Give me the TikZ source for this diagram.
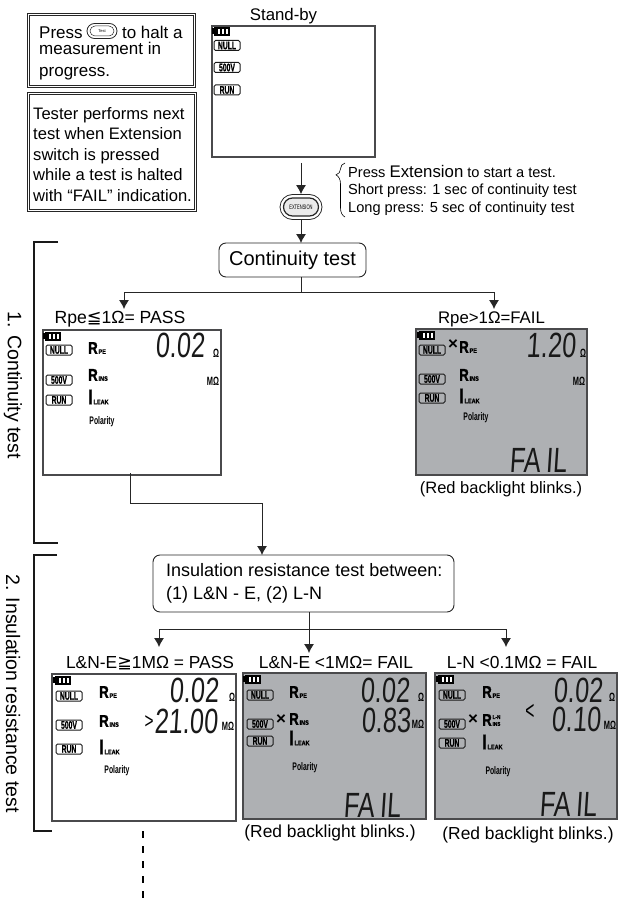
\documentclass[tikz,border=0pt]{standalone}
\usepackage{fontspec}
\setmainfont{Liberation Sans}
\newfontfamily\symfont{DejaVu Sans}
\newfontfamily\lcdfont[FakeSlant=0.09]{Liberation Sans}
\newfontfamily\lcdheavy[FakeBold=1.4]{Liberation Sans Bold}
\usetikzlibrary{arrows.meta,shapes.misc,decorations.pathreplacing}

\definecolor{lcdgray}{HTML}{AEB0B3}
\definecolor{lcdedge}{HTML}{4A4A4C}

\tikzset{
  flowline/.style={line width=0.9pt, black!85},
  flowarrow/.style={flowline, -{Latex[length=9pt,width=10pt]}},
  bracket/.style={line width=2.6pt, black!90},
  doublebox/.style={draw=black!85, line width=0.7pt, double, double distance=1.3pt, inner sep=0pt},
  roundbox/.style={draw=black!85, line width=0.9pt, rounded corners=7pt, inner sep=0pt},
  txt/.style={inner sep=0pt, align=left},
  lcdbox/.style={draw=lcdedge, line width=1.1pt, inner sep=0pt},
  lcdfail/.style={lcdbox, fill=lcdgray},
  lcdtag/.style={draw=black!90, line width=1pt, rounded corners=1.5pt, inner sep=0pt,
                 minimum width=26pt, minimum height=10pt, font=\fontsize{11}{11}\selectfont\lcdheavy},
  lcdname/.style={inner sep=0pt, anchor=west, font=\lcdheavy},
  lcdnum/.style={inner sep=0pt, black!90, font=\fontsize{24}{24}\selectfont\lcdfont},
  lcdunit/.style={inner sep=0pt, font=\fontsize{12}{12}\selectfont\bfseries},
  lcdpol/.style={inner sep=0pt, font=\fontsize{11}{11}\selectfont\bfseries},
  mark x/.style={inner sep=0pt, font=\fontsize{17}{17}\selectfont\bfseries},
  keyouter/.style={draw=black!85, line width=0.8pt, rounded rectangle, inner sep=0pt},
  note/.style={inner sep=0pt, font=\fontsize{17.4}{18}\selectfont},
}

\newcommand\lcdthin[1]{\scalebox{.62}[1]{#1}}
\newcommand\lcdfig[1]{\scalebox{1.05}[1.46]{#1}}
\newcommand\lcdsym[3]{{\fontsize{#1}{#1}\selectfont\scalebox{.78}[1]{#2}}\kern.8pt{\fontsize{6.5}{6.5}\selectfont\scalebox{.85}[1]{#3}}}
\newcommand\lcdbatt[3]{%
  \fill[black] (#2,#3+1) rectangle (#2+1.5,#3+7);
  \fill[black] (#2+1.5,#3) rectangle (#2+18,#3+8.5);
  \foreach \i in {0,1,2} {\fill[white] (#2+6+\i*4,#3+2) rectangle (#2+7.5+\i*4,#3+7);}
}
\newcommand\lcdtags[5]{%
  \node[lcdtag] (#1null) at (#2,#3) {\lcdthin{NULL}};
  \node[lcdtag] (#1volt) at (#2,#4) {\lcdthin{500V}};
  \node[lcdtag] (#1run) at (#2,#5) {\lcdthin{RUN}};
}
\newcommand\lcdlines[6]{%
  \node[lcdname] (#1pe) at (#2,#3) {\lcdsym{17}{R}{PE}};
  \node[lcdname] (#1ins) at (#2,#4) {\lcdsym{17}{R}{#6}};
  \node[lcdname] (#1leak) at (#2,#5) {\lcdsym{21}{I}{LEAK}};
}

\begin{document}
\begin{tikzpicture}[x=1pt,y=-1pt]
  \useasboundingbox (0,0) rectangle (618,904);

  \node[doublebox, minimum width=166pt, minimum height=72pt] (haltbox) at (111.5,50.5) {};
  \node[txt, anchor=north west, font=\fontsize{17}{16}\selectfont] (halttext) at (39,25.5)
    {Press \hspace{30pt} to halt a\\measurement in\\[6pt]progress.};
  \node[keyouter, minimum width=30pt, minimum height=15pt] (stopkey) at (102,31) {};
  \node[keyouter, line width=0.5pt, minimum width=24pt, minimum height=10pt, font=\fontsize{4}{4}\selectfont] (stopkeyin) at (102,31) {Test};

  \node[doublebox, minimum width=167pt, minimum height=117pt] (nextbox) at (112,152) {};
  \node[txt, anchor=north west, font=\fontsize{16.6}{20.5}\selectfont] (nexttext) at (33,107)
    {Tester performs next\\test when Extension\\switch is pressed\\while a test is halted\\with “FAIL” indication.};

  \node[inner sep=0pt, font=\fontsize{16.8}{17}\selectfont] (standbylabel) at (283.5,16) {Stand-by};
  \node[lcdbox, minimum width=163pt, minimum height=131pt] (standby) at (293.5,91.5) {};
  \lcdbatt{standbybatt}{212}{27.5}
  \lcdtags{standby}{227}{45.5}{67.5}{90}

  \node[keyouter, minimum width=42pt, minimum height=25pt] (extkey) at (301,207) {};
  \node[keyouter, line width=1.2pt, minimum width=35pt, minimum height=18pt, fill=black!8] (extkeyin) at (301,207) {};
  \node[inner sep=0pt, font=\fontsize{6.5}{6.5}\selectfont] (extkeytext) at (301,207) {\scalebox{.62}[1]{EXTENSION}};
  \draw[flowarrow] (301,163) -- (extkey.north);

  \draw[line width=0.6pt, decorate, decoration={brace, amplitude=9pt, aspect=0.78}] (345,217) -- (345,163);
  \node[txt, anchor=north west, font=\fontsize{14.6}{17.4}\selectfont] (presstext) at (348,165)
    {Press {\fontsize{16.8}{17}\selectfont Extension} to start a test.\\Short press: 1 sec of continuity test\\Long press: 5 sec of continuity test};

  \node[roundbox, minimum width=147pt, minimum height=34pt, font=\fontsize{20}{20}\selectfont] (contbox) at (292.5,260) {Continuity test};
  \draw[flowarrow] (extkey.south) -- (301,243);
  \coordinate (contbus) at (301,292);
  \coordinate (passtip) at (124,309);
  \coordinate (failtip) at (494,309);
  \draw[flowline] (301,277) -- (contbus);
  \draw[flowarrow] (contbus) -- (124,292) -- (passtip);
  \draw[flowarrow] (contbus) -- (494,292) -- (failtip);

  \draw[bracket] (58,242) -- (34,242) -- (34,543) -- (58,543);
  \draw[bracket] (57,555) -- (34,555) -- (34,831) -- (52,831);
  \node[rotate=-90, inner sep=0pt, font=\fontsize{19.5}{20}\selectfont] (conttitle) at (13,385.5) {1. Continuity test};
  \node[rotate=-90, inner sep=0pt, font=\fontsize{19.5}{20}\selectfont] (institle) at (13,693.5) {2. Insulation resistance test};

  \node[inner sep=0pt, font=\fontsize{17.6}{18}\selectfont] (passlabel) at (120,319) {Rpe{\symfont ≦}1Ω= PASS};
  \node[lcdbox, minimum width=178pt, minimum height=145pt] (pass) at (132,402.5) {};
  \lcdbatt{passbatt}{43}{332}
  \lcdtags{pass}{59}{350}{380}{400}
  \lcdlines{pass}{88}{348}{375}{397}{INS}
  \node[lcdpol] (passpol) at (102,422) {\lcdthin{Polarity}};
  \node[lcdnum] (passnum) at (180,345) {\lcdfig{0.02}};
  \node[lcdunit] (passohm) at (216,353) {\lcdthin{Ω}};
  \node[lcdunit] (passmeg) at (213,381) {\lcdthin{MΩ}};

  \node[inner sep=0pt, font=\fontsize{16.8}{17}\selectfont] (faillabel) at (491.5,319) {Rpe>1Ω=FAIL};
  \node[lcdfail, minimum width=171pt, minimum height=146pt] (fail) at (501.5,402) {};
  \lcdbatt{failbatt}{417}{331}
  \lcdtags{fail}{432}{350}{379}{398}
  \lcdlines{fail}{459}{347}{375}{396}{INS}
  \node[mark x] (failx) at (453,345) {×};
  \node[lcdpol] (failpol) at (476,418) {\lcdthin{Polarity}};
  \node[lcdnum] (failnum) at (551,345) {\lcdfig{1.20}};
  \node[lcdunit] (failohm) at (583,353) {\lcdthin{Ω}};
  \node[lcdunit] (failmeg) at (579,381) {\lcdthin{MΩ}};
  \node[lcdnum] (failword) at (538,460) {\lcdfig{FA\kern5pt IL}};
  \node[note, font=\fontsize{16.5}{17}\selectfont] (failnote) at (501,489) {(Red backlight blinks.)};

  \coordinate (insbend) at (130,503);
  \draw[flowline] (130,473) -- (insbend);
  \draw[flowarrow] (insbend) -- (262,503) -- (262,555);

  \node[roundbox, minimum width=301pt, minimum height=57pt] (insbox) at (303.5,583.5) {};
  \node[txt, anchor=north west, font=\fontsize{18}{23}\selectfont] (instext) at (166,563)
    {Insulation resistance test between:\\(1) L\&N - E, (2) L-N};

  \coordinate (insbus) at (309,629);
  \draw[flowline] (309,612) -- (insbus);
  \draw[flowarrow] (insbus) -- (159,629) -- (159,647);
  \draw[flowarrow] (insbus) -- (309,653);
  \draw[flowarrow] (insbus) -- (506,629) -- (506,647);

  \node[note] (lelabel) at (150,663) {L\&N-E{\symfont ≧}1MΩ = PASS};
  \node[lcdbox, minimum width=184pt, minimum height=147pt] (lepass) at (144,747.5) {};
  \lcdbatt{lepassbatt}{53}{676}
  \lcdtags{lepass}{69}{696}{725}{749}
  \lcdlines{lepass}{99}{692}{721}{747}{INS}
  \node[lcdpol] (lepasspol) at (117,771) {\lcdthin{Polarity}};
  \node[lcdnum] (lepassnum) at (194,690) {\lcdfig{0.02}};
  \node[lcdnum] (lepassins) at (186,721) {\lcdfig{21.00}};
  \node[inner sep=0pt, font=\fontsize{22}{22}\selectfont] (lepassgt) at (149,722) {\scalebox{.7}[1]{>}};
  \node[lcdunit] (lepassohm) at (232,697) {\lcdthin{Ω}};
  \node[lcdunit] (lepassmeg) at (228,726) {\lcdthin{MΩ}};

  \node[note] (lflabel) at (336,663) {L\&N-E <1MΩ= FAIL};
  \node[lcdfail, minimum width=183pt, minimum height=146pt] (lefail) at (334.5,746) {};
  \lcdbatt{lefailbatt}{243}{675}
  \lcdtags{lefail}{260}{695}{724}{741}
  \lcdlines{lefail}{289}{692}{719}{738}{INS}
  \node[mark x] (lefailx) at (281,720) {×};
  \node[lcdpol] (lefailpol) at (305,768) {\lcdthin{Polarity}};
  \node[lcdnum] (lefailnum) at (385,690) {\lcdfig{0.02}};
  \node[lcdnum] (lefailins) at (386,720) {\lcdfig{0.83}};
  \node[lcdunit] (lefailohm) at (421,697) {\lcdthin{Ω}};
  \node[lcdunit] (lefailmeg) at (418,724) {\lcdthin{MΩ}};
  \node[lcdnum] (lefailword) at (372,805) {\lcdfig{FA\kern5pt IL}};
  \node[note] (lefailnote) at (330,833) {(Red backlight blinks.)};

  \node[note] (lnlabel) at (522,663) {L-N <0.1MΩ = FAIL};
  \node[lcdfail, minimum width=182pt, minimum height=146pt] (lnfail) at (526,746) {};
  \lcdbatt{lnfailbatt}{436}{675}
  \lcdtags{lnfail}{452}{695}{724}{743}
  \lcdlines{lnfail}{482}{692}{720}{742}{\shortstack[c]{\fontsize{5.5}{7.5}\selectfont L-N\\\fontsize{5.5}{7.5}\selectfont INS}}
  \node[mark x] (lnfailx) at (473,720) {×};
  \node[lcdpol] (lnfailpol) at (498,772) {\lcdthin{Polarity}};
  \node[lcdnum] (lnfailnum) at (578,690) {\lcdfig{0.02}};
  \node[lcdnum] (lnfailins) at (576,719) {\lcdfig{0.10}};
  \node[inner sep=0pt, font=\fontsize{26}{26}\selectfont] (lnfaillt) at (530,712) {\scalebox{.6}[1]{<}};
  \node[lcdunit] (lnfailohm) at (612,697) {\lcdthin{Ω}};
  \node[lcdunit] (lnfailmeg) at (610,725) {\lcdthin{MΩ}};
  \node[lcdnum] (lnfailword) at (568,804) {\lcdfig{FA\kern5pt IL}};
  \node[note] (lnfailnote) at (528,835) {(Red backlight blinks.)};

  \coordinate (nextup) at (143,831);
  \coordinate (nextdown) at (143,904);
  \draw[line width=2.5pt, black, dash pattern=on 7pt off 8pt] (nextup) -- (nextdown);
\end{tikzpicture}
\end{document}
